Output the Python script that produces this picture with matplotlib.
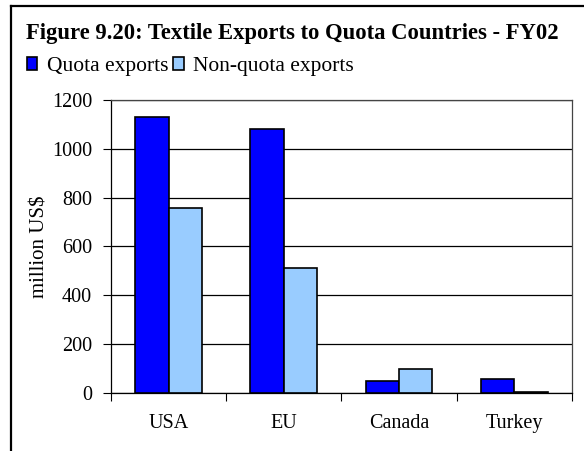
import matplotlib.pyplot as plt
import numpy as np
from matplotlib.lines import Line2D

plt.rcParams['font.family'] = 'Liberation Serif'

countries = ['USA', 'EU', 'Canada', 'Turkey']
quota = [1129, 1081, 48, 56]
non_quota = [758, 510, 96, 5]

fig = plt.figure(figsize=(5.84, 4.51), dpi=100)
ax = fig.add_axes([0.190, 0.129, 0.789, 0.649])

x = np.arange(len(countries))
w = 0.29
ax.bar(x - w / 2, quota, w, color='#0000FF', edgecolor='black', linewidth=1.2,
       label='Quota exports', zorder=3)
ax.bar(x + w / 2, non_quota, w, color='#99CCFF', edgecolor='black', linewidth=1.2,
       label='Non-quota exports', zorder=3)

ax.set_xlim(-0.5, len(countries) - 0.5)
ax.set_ylim(0, 1200)
ax.set_yticks(range(0, 1201, 200))
ax.yaxis.grid(True, color='black', linewidth=0.9, zorder=0)

# category labels between boundary ticks
ax.set_xticks(np.arange(len(countries) + 1) - 0.5)
ax.set_xticklabels([])
ax.set_xticks(x, minor=True)
ax.set_xticklabels(countries, minor=True, fontsize=14.5)
ax.tick_params(axis='x', which='minor', length=0, pad=15)
ax.tick_params(axis='x', which='major', length=6, direction='out', color='black')
ax.tick_params(axis='y', length=6, direction='out', labelsize=14.5, pad=7.5)

for s in ax.spines.values():
    s.set_linewidth(0.9)
ax.spines['top'].set_color('#444444')
ax.spines['right'].set_color('#444444')

ax.set_ylabel('million US$', fontsize=15, labelpad=2)

fig.text(26 / 584, 1 - 38.5 / 451, 'Figure 9.20: Textile Exports to Quota Countries - FY02',
         fontsize=16.3, fontweight='bold', va='baseline')

fig.legend(loc='upper left', bbox_to_anchor=(26.5 / 584, 0.873), ncol=2, frameon=False,
           fontsize=15.5, handlelength=0.5, handleheight=0.5, handletextpad=0.45,
           columnspacing=0.2, borderaxespad=0, borderpad=0)

# outer frame (left and top edges)
fig.add_artist(Line2D([11 / 584, 11 / 584], [-0.05, 1 - 6 / 451], color='black',
                      linewidth=1.6, transform=fig.transFigure))
fig.add_artist(Line2D([11 / 584, 1.05], [1 - 6 / 451, 1 - 6 / 451], color='black',
                      linewidth=1.6, transform=fig.transFigure))

fig.savefig('out.png', dpi=100)
